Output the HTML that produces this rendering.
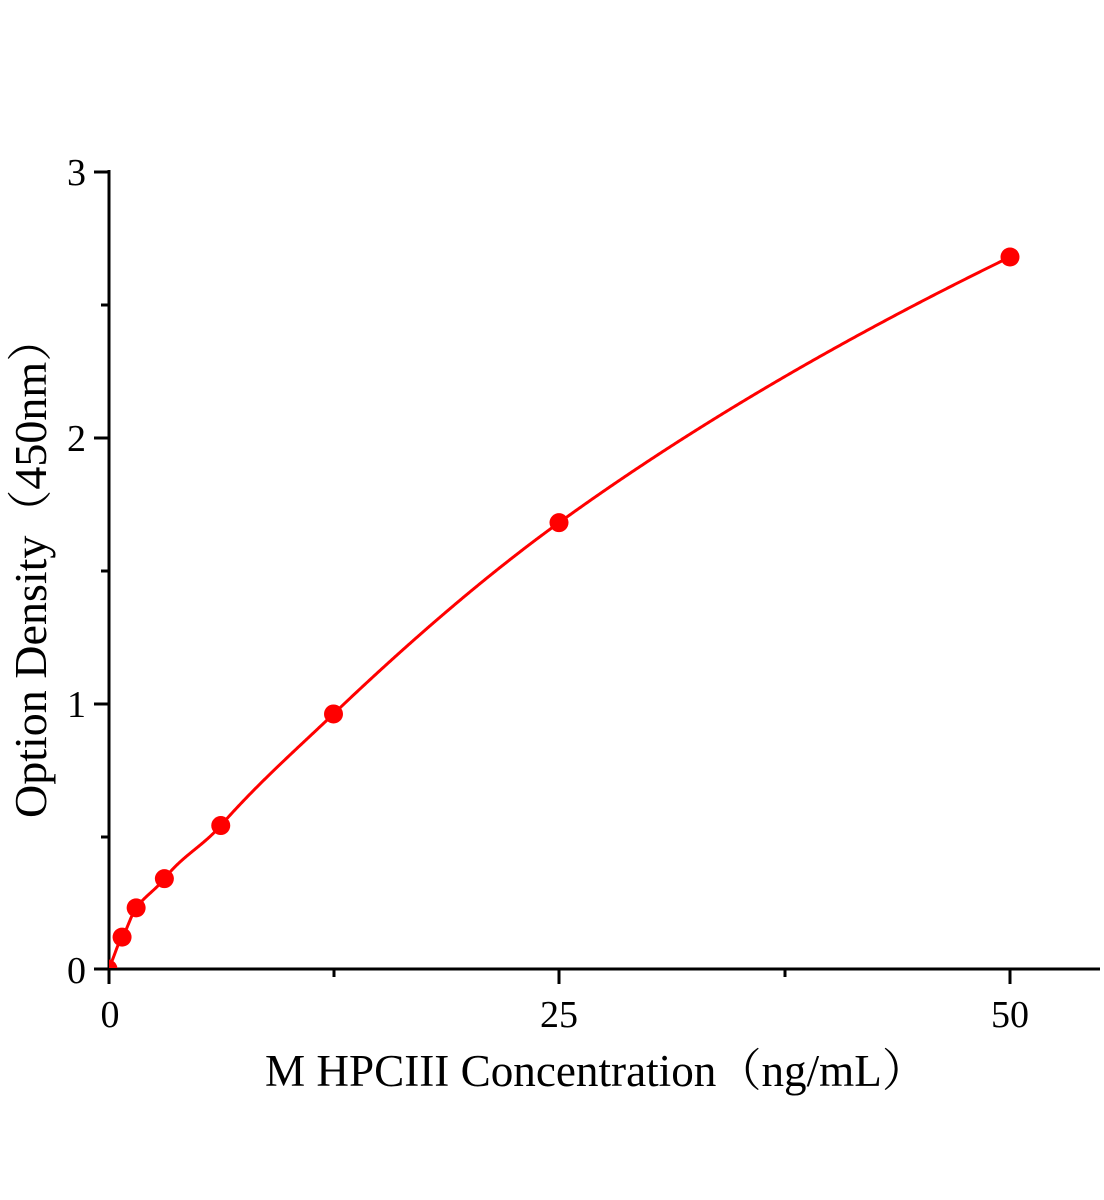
<!DOCTYPE html>
<html><head><meta charset="utf-8"><style>
html,body{margin:0;padding:0;background:#fff;}
svg{display:block;}
text{font-family:"Liberation Serif","Noto Serif CJK SC",serif;fill:#000;}
</style></head><body>
<svg width="1104" height="1200" viewBox="0 0 1104 1200" xmlns="http://www.w3.org/2000/svg">
<defs><clipPath id="c"><rect x="109" y="100" width="1000" height="868"/></clipPath></defs>
<g stroke="#000" stroke-width="3" fill="none">
<line x1="109" y1="170" x2="109" y2="984"/>
<line x1="94" y1="969" x2="1100" y2="969"/>
<line x1="94" y1="172" x2="109" y2="172"/>
<line x1="94" y1="438" x2="109" y2="438"/>
<line x1="94" y1="704" x2="109" y2="704"/>
<line x1="101" y1="305" x2="109" y2="305"/>
<line x1="101" y1="571" x2="109" y2="571"/>
<line x1="101" y1="837" x2="109" y2="837"/>
<line x1="559" y1="969" x2="559" y2="984"/>
<line x1="1010" y1="969" x2="1010" y2="984"/>
<line x1="334" y1="969" x2="334" y2="977"/>
<line x1="785" y1="969" x2="785" y2="977"/>
</g>
<g font-size="38" text-anchor="end">
<text x="86" y="185">3</text>
<text x="86" y="451">2</text>
<text x="86" y="717">1</text>
<text x="86" y="983">0</text>
</g>
<g font-size="38" text-anchor="middle">
<text x="110" y="1027">0</text>
<text x="559" y="1027">25</text>
<text x="1010" y="1027">50</text>
</g>
<text transform="translate(265,1086) scale(1.05,1.05)" font-size="43">M HPCIII Concentration（ng/mL）</text>
<text transform="translate(46,818) rotate(-90) scale(1.07,1.05)" font-size="43">Option Density（450nm）</text>
<g clip-path="url(#c)">
<path id="curve" d="" stroke="#f00" stroke-width="3" fill="none"/>
<g fill="#f00" id="pts"></g>
</g>
</svg>
<script>
var X=[0,0.78,1.56,3.125,6.25,12.5,25,50], Y=[0,0.12,0.23,0.34,0.54,0.96,1.68,2.68];
function f(x){return 2.528*Math.log(1+x/26.5);}
var R=X.map(function(x,i){return Y[i]-f(x);});
function r(x){for(var i=0;i<X.length-1;i++){if(x<=X[i+1]){var t=(x-X[i])/(X[i+1]-X[i]);var s=t*t*(3-2*t);return R[i]+(R[i+1]-R[i])*s;}}return 0;}
function px(x){return 108+x*18.04;}
function py(y){return 969-y*265.67;}
var d="";
for(var k=0;k<=1000;k++){var x=50*Math.pow(k/1000,2);var y=f(x)+r(x);d+=(k?" L":"M")+px(x).toFixed(2)+","+py(y).toFixed(2);}
document.getElementById("curve").setAttribute("d",d);
var s="";
X.forEach(function(x,i){s+='<circle cx="'+px(x)+'" cy="'+py(Y[i])+'" r="9.5"/>';});
document.getElementById("pts").innerHTML=s;
</script>
</body></html>
